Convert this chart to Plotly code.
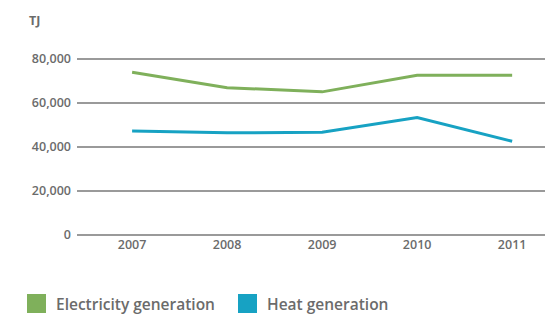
import plotly.graph_objects as go

years = [2007, 2008, 2009, 2010, 2011]
electricity = [74000, 67000, 65100, 72700, 72700]
heat = [47300, 46500, 46700, 53400, 42600]
y_ticks = [0, 20000, 40000, 60000, 80000]
y_tick_labels = ["0", "20,000", "40,000", "60,000", "80,000"]
series_names = ["Electricity generation", "Heat generation"]

green = "#7fb05b"
blue = "#17a2c3"
txt = "#6b6b6b"
font = "Open Sans"

# the page body has an 8px default margin, so the figure is drawn offset by 8px
OFF = 8
W, H = 553 - OFF, 314 - OFF
L, R, T, B = 77 - OFF, 0, 58 - OFF, 79
pw, ph = W - L - R, H - T - B


def px(x):
    return (x - OFF - L) / pw


def py(y):
    return (H - B - (y - OFF)) / ph


fig = go.Figure()
fig.add_trace(go.Scatter(x=years, y=electricity, mode="lines", name=series_names[0],
                         line=dict(color=green, width=3)))
fig.add_trace(go.Scatter(x=years, y=heat, mode="lines", name=series_names[1],
                         line=dict(color=blue, width=3)))

tf = dict(family=font, size=12.5, color=txt, weight=600)
fig.update_layout(
    width=W, height=H,
    margin=dict(l=L, r=R, t=T, b=B, autoexpand=False),
    paper_bgcolor="white", plot_bgcolor="white",
    showlegend=False,
    font=dict(family=font, size=13, color=txt),
    xaxis=dict(range=[2006.42, 2011.43], tickvals=years, ticktext=[str(y) for y in years],
               showgrid=False, zeroline=False, showline=False, ticks="",
               tickfont=tf),
    yaxis=dict(range=[0, 80500], tickvals=y_ticks, ticktext=y_tick_labels,
               showgrid=True, gridcolor="#9a9a9a", gridwidth=1.5,
               zeroline=True, zerolinecolor="#9a9a9a", zerolinewidth=1.5,
               ticks="", ticklabelstandoff=5,
               tickfont=tf),
)

fig.add_annotation(text="TJ", xref="paper", yref="paper", x=px(27), y=py(20),
                   xanchor="left", yanchor="middle", showarrow=False,
                   font=dict(family=font, size=12.5, color=txt, weight=700))

legend_items = [(series_names[0], green, 27), (series_names[1], blue, 238)]
for name, col, x0 in legend_items:
    fig.add_shape(type="rect", xref="paper", yref="paper",
                  x0=px(x0), x1=px(x0 + 19), y0=py(313), y1=py(294),
                  fillcolor=col, line=dict(width=0))
    fig.add_annotation(text=name, xref="paper", yref="paper", x=px(x0 + 27), y=py(304),
                       xanchor="left", yanchor="middle", showarrow=False,
                       font=dict(family=font, size=15.5, color=txt, weight=600))

fig.write_html("out.html")
